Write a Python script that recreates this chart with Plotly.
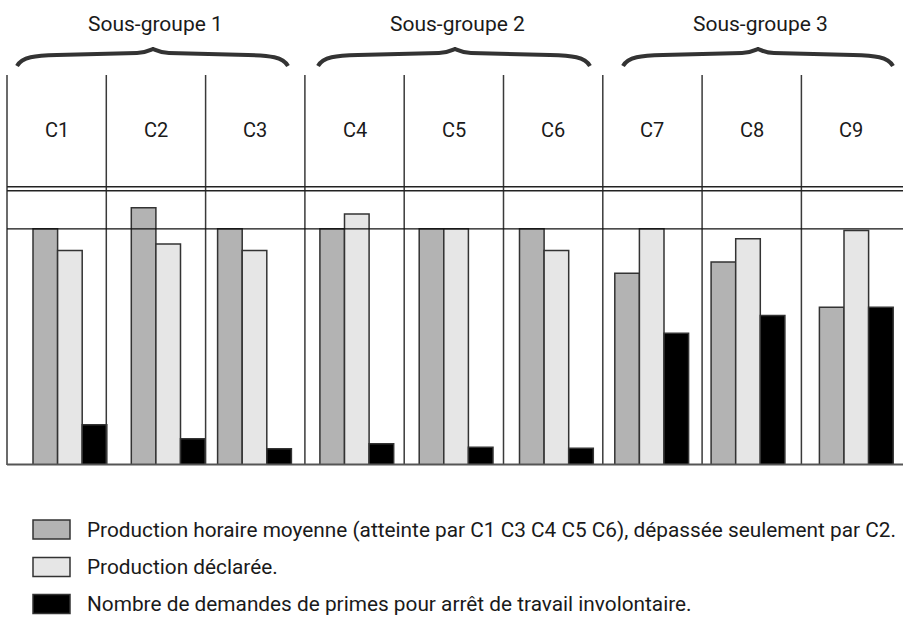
import plotly.graph_objects as go

# ---------------- data ----------------
categories = ["C1", "C2", "C3", "C4", "C5", "C6", "C7", "C8", "C9"]
prod_moyenne = [100, 108.9, 100, 100, 100, 100, 81.2, 85.9, 66.8]
prod_declaree = [90.8, 93.6, 90.8, 106.3, 100, 90.8, 100, 95.8, 99.3]
demandes_primes = [17.0, 11.1, 6.9, 9.0, 7.5, 7.1, 55.8, 63.3, 66.8]
subgroups = ["Sous-groupe 1", "Sous-groupe 2", "Sous-groupe 3"]
legend_labels = [
    "Production horaire moyenne (atteinte par C1 C3 C4 C5 C6), dépassée seulement par C2.",
    "Production déclarée.",
    "Nombre de demandes de primes pour arrêt de travail involontaire.",
]

# ---------------- layout geometry (pixels) ----------------
W, H = 903, 617
L, T, B = 7, 75, 152
PW = W - L          # plot width in px
PH = H - T - B      # plot height in px
COLW = 99.3         # column width in px
XMAX = PW / COLW    # x range in column units
PX_PER_UNIT = 2.362 # px per value unit
YMAX = PH / PX_PER_UNIT
BARW = 24.6 / COLW
group_shift_px = [26, 25, 12, 15, 15, 16, 12, 9, 18]

def px2paper_x(px):
    return (px - L) / PW

def px2paper_y(py):
    return (H - B - py) / PH

colors = ["#b3b3b3", "#e6e6e6", "#000000"]
series = [prod_moyenne, prod_declaree, demandes_primes]

fig = go.Figure()
xs = list(range(len(categories)))
for k, (vals, col, name) in enumerate(zip(series, colors, legend_labels)):
    fig.add_trace(go.Bar(
        x=xs, y=vals, name=name, width=BARW,
        offset=[s / COLW + k * BARW for s in group_shift_px],
        marker=dict(color=col, line=dict(color="#333333", width=1.5)),
        showlegend=False,
        hovertext=categories,
    ))

shapes = []
# vertical column separators
for i in range(len(categories)):
    xp = i / XMAX
    shapes.append(dict(type="line", xref="paper", yref="paper", x0=xp, x1=xp,
                       y0=0, y1=1, line=dict(color="#3a3a3a", width=1.5), layer="above"))
# reference line (100)
y100 = 100 / YMAX
shapes.append(dict(type="line", xref="paper", yref="paper", x0=0, x1=1,
                   y0=y100, y1=y100, line=dict(color="#111111", width=1.2), layer="above"))
# double line below header
for py in (186.7, 190.7):
    yp = px2paper_y(py)
    shapes.append(dict(type="line", xref="paper", yref="paper", x0=0, x1=1,
                       y0=yp, y1=yp, line=dict(color="#222222", width=1.4), layer="above"))
# baseline
shapes.append(dict(type="line", xref="paper", yref="paper", x0=0, x1=1,
                   y0=px2paper_y(464.5), y1=px2paper_y(464.5),
                   line=dict(color="#555555", width=2), layer="above"))

# braces
brace_spans = [(17, 153, 288), (318, 455, 590), (623, 758, 893)]
def brace_path(x0, xm, x1):
    def P(x, y):
        return f"{px2paper_x(x):.5f},{px2paper_y(y):.5f}"
    return ("M " + P(x0, 66) +
            " C " + P(x0 + 5, 57) + " " + P(x0 + 18, 55.5) + " " + P(x0 + 40, 55) +
            " L " + P(xm - 16, 53) +
            " C " + P(xm - 7, 53) + " " + P(xm - 3, 50) + " " + P(xm, 49) +
            " C " + P(xm + 3, 50) + " " + P(xm + 7, 53) + " " + P(xm + 16, 53) +
            " L " + P(x1 - 40, 55) +
            " C " + P(x1 - 18, 55.5) + " " + P(x1 - 5, 57) + " " + P(x1, 66))
for x0, xm, x1 in brace_spans:
    shapes.append(dict(type="path", xref="paper", yref="paper", path=brace_path(x0, xm, x1),
                       line=dict(color="#333333", width=4)))

# legend squares
leg_y = [529.5, 567, 604]
for c, yc in zip(colors, leg_y):
    shapes.append(dict(type="rect", xref="paper", yref="paper",
                       x0=px2paper_x(33), x1=px2paper_x(70),
                       y0=px2paper_y(yc - 9.5), y1=px2paper_y(yc + 9.5),
                       fillcolor=c, line=dict(color="#333333", width=1.5)))

annotations = []
FONT = "Roboto, Arial, sans-serif"
for i, c in enumerate(categories):
    annotations.append(dict(text=c, xref="paper", yref="paper",
                            x=(i + 0.5) / XMAX, y=px2paper_y(130),
                            xanchor="center", yanchor="middle", showarrow=False,
                            font=dict(family=FONT, size=20, color="#1a1a1a")))
for (x0, xm, x1), s in zip(brace_spans, subgroups):
    annotations.append(dict(text=s, xref="paper", yref="paper",
                            x=px2paper_x(xm + 2), y=px2paper_y(24),
                            xanchor="center", yanchor="middle", showarrow=False,
                            font=dict(family=FONT, size=21, color="#1a1a1a")))
for lab, yc in zip(legend_labels, leg_y):
    annotations.append(dict(text=lab, xref="paper", yref="paper",
                            x=px2paper_x(85), y=px2paper_y(yc),
                            xanchor="left", yanchor="middle", showarrow=False,
                            font=dict(family=FONT, size=20.8, color="#1a1a1a")))

fig.update_layout(
    width=W, height=H,
    margin=dict(l=L, r=0, t=T, b=B, pad=0),
    paper_bgcolor="white", plot_bgcolor="white",
    xaxis=dict(range=[0, XMAX], visible=False, fixedrange=True),
    yaxis=dict(range=[0, YMAX], visible=False, fixedrange=True),
    barmode="overlay",
    shapes=shapes, annotations=annotations,
    showlegend=False,
)
fig.write_html("out.html", config={"displayModeBar": False},
               post_script="document.body.style.margin='0';document.body.style.overflow='hidden';")
